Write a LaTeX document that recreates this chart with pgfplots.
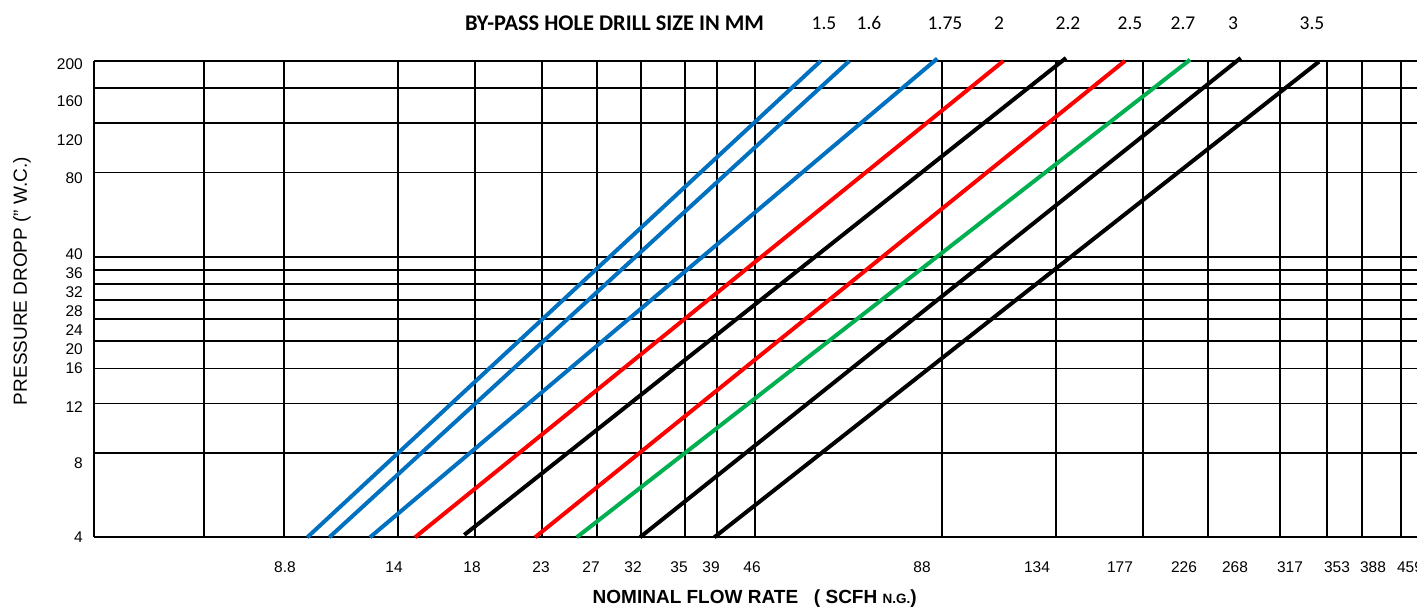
\documentclass[border=0pt]{standalone}
\usepackage{pgfplots}
\pgfplotsset{compat=1.18}
\usepackage{fontspec}
\setmainfont{Liberation Sans}
\newfontfamily\calibri{Carlito}
\definecolor{lblue}{RGB}{0,112,192}
\definecolor{lred}{RGB}{255,0,0}
\definecolor{lgreen}{RGB}{0,176,80}
\begin{document}
\begin{tikzpicture}
\path[use as bounding box] (0pt,0pt) rectangle (1417pt,607pt);
\begin{axis}[
  at={(94pt,69.7pt)}, anchor=south west,
  scale only axis,
  width=1323pt, height=476.3pt,
  xmin=94, xmax=1417,
  ymode=log, ymin=4, ymax=200,
  axis line style={draw=none},
  clip=false,
  major tick length=0pt,
  tick label style={font=\fontsize{15.5}{18}\selectfont, inner sep=0pt},
  xtick={285,394,472,541,591,633,679,711,752,922,1037,1120,1184,1235,1290,1337,1373,1410},
  xticklabels={8.8,14,18,23,27,32,35,39,46,88,134,177,226,268,317,353,388,459},
  xticklabel style={anchor=base, yshift=-35.7pt},
  ytick={4,7.36,11.70,16.07,18.79,21.96,25.67,30.07,35.07,41.0,76.4,104.6,143.3,194.7},
  yticklabels={4,8,12,16,20,24,28,32,36,40,80,120,160,200},
  yticklabel style={anchor=east, xshift=-11pt},
  extra x ticks={94,204,284,398,475,542,597,641,685,717,755,942,1056,1143,1208,1280,1327,1362,1401},
  extra x tick labels={},
  extra x tick style={grid=major},
  extra y ticks={4,8,12,16,20,24,28,32,36,40,80,120,160,200},
  extra y tick labels={},
  extra y tick style={grid=major},
  grid style={black, line width=1.8pt},
]
% drill 1.5, 1.6, 1.75
\addplot[lblue, line width=4pt] coordinates {(307.3,4) (820.7,200)};
\addplot[lblue, line width=4pt] coordinates {(329.3,4) (849.3,200)};
\addplot[lblue, line width=4pt] coordinates {(370,4) (937.3,204)};
% drill 2, 2.2
\addplot[lred, line width=4pt] coordinates {(415,4) (1003.3,200)};
\addplot[black, line width=4pt] coordinates {(464.3,4.08) (1066,205)};
% drill 2.5, 2.7
\addplot[lred, line width=4pt] coordinates {(535,4) (1125,200)};
\addplot[lgreen, line width=4pt] coordinates {(576.7,4) (1190,202)};
% drill 3, 3.5
\addplot[black, line width=4pt] coordinates {(640,4) (1240.7,205)};
\addplot[black, line width=4pt] coordinates {(714.3,4) (1319,199)};
\end{axis}
% top labels
\node[font=\calibri\bfseries\fontsize{22.4}{25}\selectfont] at (614.5pt,584pt) {BY-PASS HOLE DRILL SIZE IN MM};
\begin{scope}[every node/.style={font=\calibri\fontsize{19.5}{22}\selectfont}]
\node at (824pt,583.5pt) {1.5};
\node at (869pt,583.5pt) {1.6};
\node at (945pt,583.5pt) {1.75};
\node at (999pt,583.5pt) {2};
\node at (1068pt,583.5pt) {2.2};
\node at (1130pt,583.5pt) {2.5};
\node at (1183pt,583.5pt) {2.7};
\node at (1233pt,583.5pt) {3};
\node at (1312pt,583.5pt) {3.5};
\end{scope}
% axis titles
\node[font=\bfseries\fontsize{19}{21}\selectfont] at (754.7pt,8pt) {NOMINAL FLOW RATE\ \ \ ( SCFH {\fontsize{13.5}{15}\selectfont N.G.})};
\node[rotate=90, font=\fontsize{19}{22}\selectfont] at (22pt,326pt) {PRESSURE DROPP (" W.C.)};
\end{tikzpicture}
\end{document}
